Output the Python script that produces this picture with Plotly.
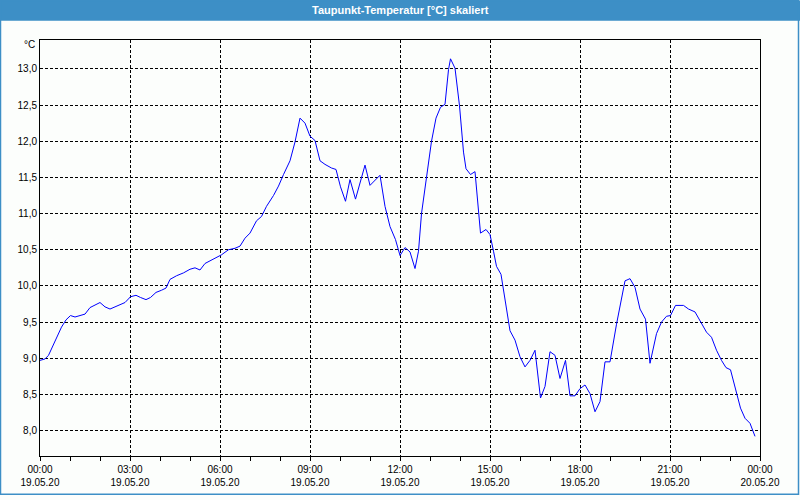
import plotly.graph_objects as go
import pandas as pd

# ---- data ----
day = "2020-05-19"
times = ["00:00","00:10","00:17","00:23","00:33","00:43","00:52","01:01","01:10","01:20",
         "01:30","01:40","01:50","02:00","02:10","02:20","02:30","02:40","02:50","03:01",
         "03:12","03:21","03:32","03:41","03:52","04:03","04:12","04:20","04:33","04:47",
         "05:00","05:10","05:20","05:30","05:43","05:53","06:03","06:17","06:30","06:40",
         "06:50","07:00","07:13","07:23","07:33","07:47","07:57","08:07","08:20","08:30",
         "08:40","08:50","09:00","09:10","09:20","09:30","09:43","09:52","10:01","10:11",
         "10:20","10:31","10:40","10:50","11:00","11:10","11:20","11:30","11:40","11:51",
         "12:00","12:10","12:20","12:30","12:37","12:43","12:53","13:03","13:12","13:21",
         "13:30","13:37","13:41","13:50","13:59","14:07","14:12","14:21","14:30","14:37",
         "14:41","14:52","15:00","15:07","15:13","15:22","15:30","15:40","15:50","16:00",
         "16:10","16:20","16:30","16:41","16:50","17:00","17:10","17:20","17:31","17:40",
         "17:50","18:00","18:10","18:20","18:30","18:40","18:50","19:00","19:13","19:23",
         "19:30","19:40","19:50","20:00","20:11","20:20","20:23","20:33","20:43","20:53",
         "21:01","21:11","21:27","21:37","21:50","22:00","22:13","22:23","22:33","22:43",
         "22:52","23:01","23:10","23:21","23:30","23:40","23:50"]
dewpoint = [8.97,8.99,9.04,9.13,9.29,9.43,9.53,9.59,9.57,9.59,
            9.61,9.70,9.74,9.77,9.71,9.68,9.71,9.74,9.77,9.85,
            9.87,9.84,9.81,9.84,9.91,9.94,9.97,10.09,10.14,10.18,
            10.23,10.25,10.22,10.31,10.36,10.40,10.43,10.50,10.52,10.55,
            10.66,10.73,10.90,10.96,11.10,11.25,11.38,11.54,11.73,11.99,
            12.32,12.25,12.07,12.01,11.73,11.68,11.63,11.61,11.37,11.17,
            11.47,11.20,11.42,11.67,11.39,11.46,11.53,11.10,10.82,10.64,
            10.42,10.53,10.47,10.24,10.48,11.00,11.53,12.00,12.32,12.47,
            12.51,12.99,13.14,13.01,12.49,11.85,11.62,11.54,11.58,11.03,
            10.73,10.78,10.71,10.48,10.27,10.16,9.82,9.38,9.25,9.02,
            8.88,8.97,9.11,8.45,8.61,9.09,9.04,8.72,8.97,8.48,
            8.48,8.58,8.63,8.51,8.26,8.40,8.95,8.95,9.47,9.82,
            10.07,10.10,9.98,9.68,9.54,8.93,9.02,9.34,9.50,9.58,
            9.59,9.73,9.73,9.68,9.64,9.52,9.36,9.29,9.11,8.97,
            8.87,8.84,8.61,8.31,8.17,8.10,7.92]

tick_hours = ["00:00","03:00","06:00","09:00","12:00","15:00","18:00","21:00","00:00"]
tick_dates = ["19.05.20"] * 8 + ["20.05.20"]
tick_positions = pd.date_range("2020-05-19 00:00", "2020-05-20 00:00", freq="3h")
y_ticks = [8.0, 8.5, 9.0, 9.5, 10.0, 10.5, 11.0, 11.5, 12.0, 12.5, 13.0]

title_text = "Taupunkt-Temperatur [°C] skaliert"
unit_text = "°C"

x = pd.to_datetime([f"{day} {t}" for t in times])

W, H = 800, 500
L, R, T, B = 40, 40, 40, 40
pw, ph = W - L - R, H - T - B
def px_x(p):
    return (p - L) / pw
def px_y(p):
    return (H - B - p) / ph

blue = "#3D8FC6"
font = "Liberation Sans"

fig = go.Figure()
fig.add_trace(go.Scatter(x=x, y=dewpoint, mode="lines",
                         line=dict(color="#0000FF", width=1), hoverinfo="skip"))

fig.update_layout(
    width=W, height=H,
    margin=dict(l=L, r=R, t=T, b=B),
    paper_bgcolor="#FCFEFC", plot_bgcolor="#FCFEFC",
    separators=",.",
    showlegend=False,
    font=dict(family=font, size=10, color="#000000"),
)
fig.update_xaxes(
    range=[tick_positions[0], tick_positions[-1]],
    tickvals=tick_positions,
    ticktext=[f"{h}<br>{d}" for h, d in zip(tick_hours, tick_dates)],
    showgrid=True, gridcolor="#000000", gridwidth=1, griddash="3px,2px",
    showline=True, linecolor="#000000", linewidth=1, mirror=True,
    ticks="outside", ticklen=4, tickcolor="#000000", tickwidth=1,
    minor=dict(dtick=3600000, ticks="outside", ticklen=4, tickcolor="#000000", showgrid=False),
    zeroline=False,
)
fig.update_yaxes(
    range=[7.648, 13.40],
    tickvals=y_ticks, tickformat=".1f",
    showgrid=True, gridcolor="#000000", gridwidth=1, griddash="3px,2px",
    showline=True, linecolor="#000000", linewidth=1, mirror=True,
    ticks="", zeroline=False,
)

# title bar
fig.add_shape(type="rect", xref="paper", yref="paper",
              x0=px_x(0), x1=px_x(W), y0=px_y(20.5), y1=px_y(0),
              fillcolor=blue, line=dict(width=0), layer="above")
# outer frame
fig.add_shape(type="rect", xref="paper", yref="paper",
              x0=px_x(0.5), x1=px_x(W - 1.5), y0=px_y(H - 1.5), y1=px_y(0),
              line=dict(color=blue, width=1.5), fillcolor="rgba(0,0,0,0)", layer="above")
fig.add_annotation(text=title_text, xref="paper", yref="paper",
                   x=px_x(W / 2), y=px_y(10), xanchor="center", yanchor="middle",
                   showarrow=False, font=dict(family=font, size=11, color="#FFFFFF", weight="bold"))
fig.add_annotation(text=unit_text, xref="paper", yref="paper",
                   x=px_x(37), y=px_y(45), xanchor="right", yanchor="middle",
                   showarrow=False, font=dict(family=font, size=10, color="#000000"))

fig.write_html("out.html", config={"displayModeBar": False},
               post_script="document.body.style.margin='0';document.body.style.padding='0';")
